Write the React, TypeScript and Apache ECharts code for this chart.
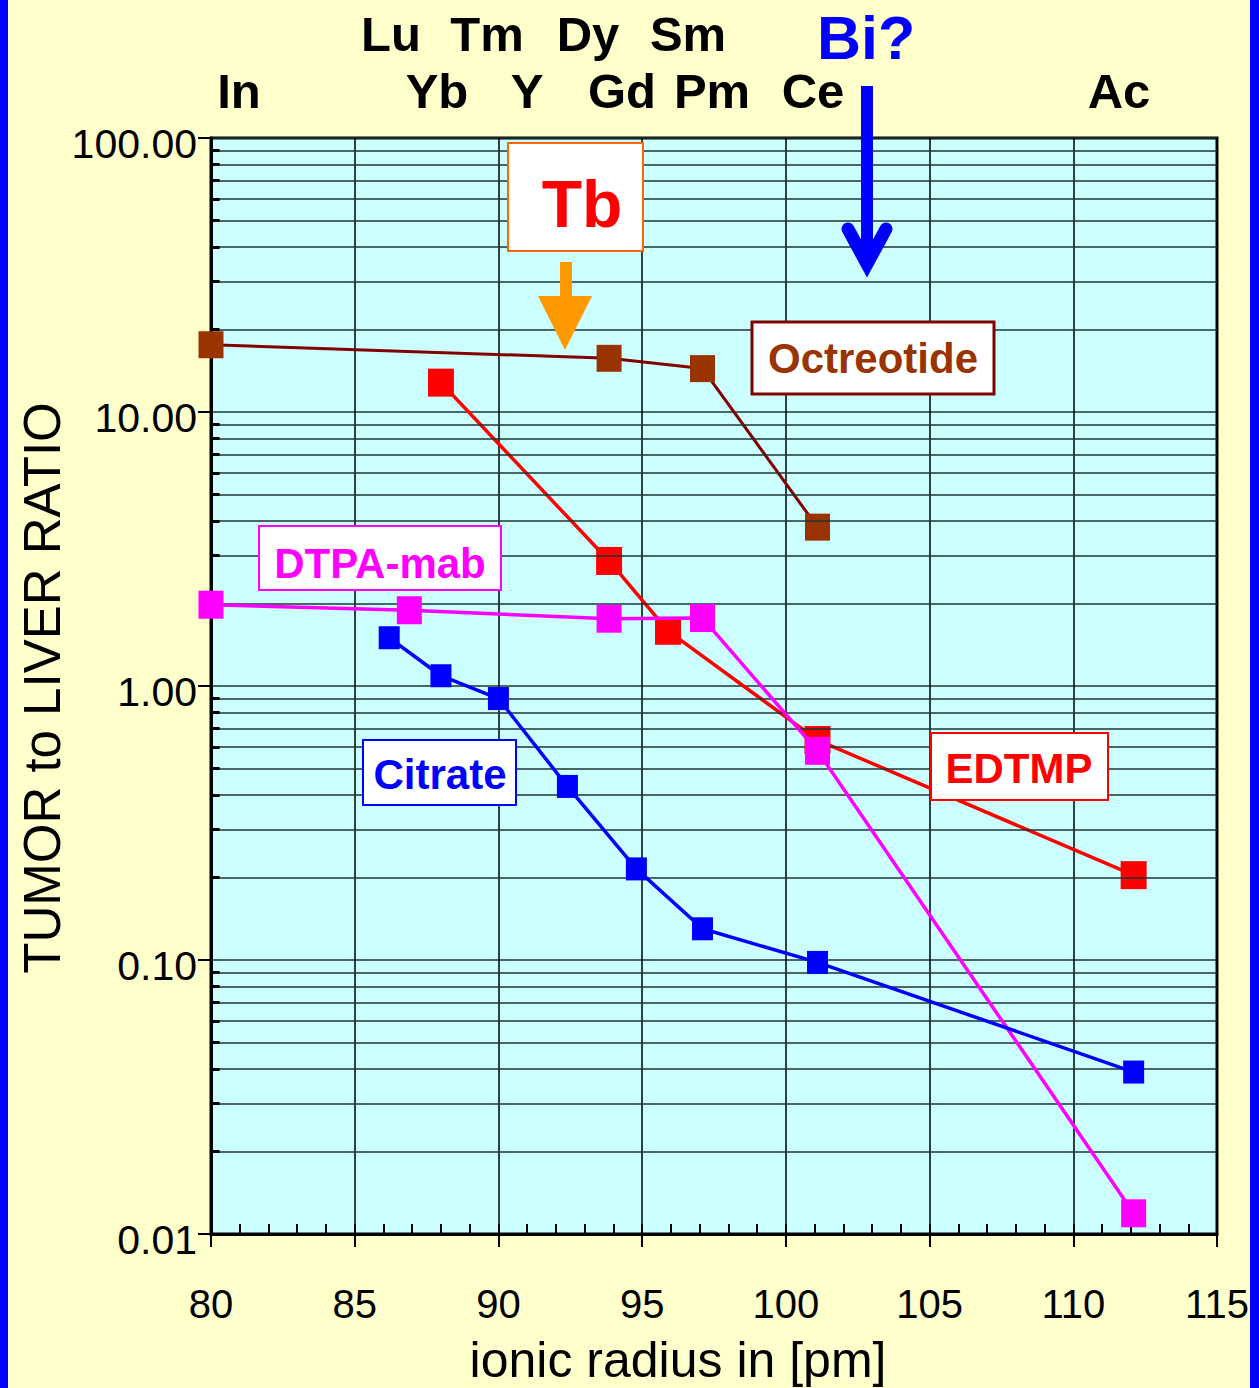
import React, { useEffect, useRef } from "react";
import * as echarts from "echarts";

// ---- data ----
const octreotideX = [80, 93.85, 97.1, 101.1];
const octreotideY = [17.6, 15.7, 14.4, 3.8];

const edtmpX = [88, 93.85, 95.9, 101.1, 112.1];
const edtmpY = [12.8, 2.86, 1.59, 0.635, 0.204];

const dtpaX = [80, 86.9, 93.85, 97.1, 101.1, 112.1];
const dtpaY = [1.98, 1.89, 1.76, 1.77, 0.58, 0.0119];

const citrateX = [86.2, 88, 90, 92.4, 94.8, 97.1, 101.1, 112.1];
const citrateY = [1.5, 1.09, 0.9, 0.43, 0.215, 0.13, 0.098, 0.039];

const yDecades = [0.01, 0.1, 1, 10];
const yMinorMultipliers = [2, 3, 4, 5, 6, 7, 8, 9];

const elementRow1 = ["Lu", "Tm", "Dy", "Sm"];
const elementRow2 = ["In", "Yb", "Y", "Gd", "Pm", "Ce", "Ac"];

// ---- layout (pixels) for annotations ----
const row1Pos = [391, 487, 588, 688];
const row2Pos = [239, 437, 527, 622, 712, 813, 1119];

const FONT = '"Liberation Sans", Arial, sans-serif';

const zip = (xs: number[], ys: number[]) => xs.map((x, i) => [x, ys[i]]);

function txt(text: string, x: number, y: number, size: number, color: string, bold = true, extra: any = {}) {
  return {
    type: "text",
    z: 100,
    x,
    y,
    ...extra,
    style: {
      text,
      fill: color,
      fontSize: size,
      fontWeight: bold ? "bold" : "normal",
      fontFamily: FONT,
      align: "center",
      verticalAlign: "middle",
      textAlign: "center",
      textVerticalAlign: "middle",
    },
  };
}

function box(x: number, y: number, w: number, h: number, stroke: string, lw: number) {
  return {
    type: "rect",
    z: 99,
    shape: { x, y, width: w, height: h },
    style: { fill: "#FFFFFF", stroke, lineWidth: lw },
  };
}

export default function App() {
  const ref = useRef<HTMLDivElement>(null);

  useEffect(() => {
    document.body.style.margin = "0";
    if (!ref.current) return;
    const chart = echarts.init(ref.current, null, { renderer: "svg" });

    const minorValues: number[] = [];
    yDecades.forEach((d) => yMinorMultipliers.forEach((m) => minorValues.push(+(d * m).toPrecision(3))));

    const graphic: any[] = [
      // blue side borders
      { type: "rect", z: 100, shape: { x: 0, y: 0, width: 8, height: 1388 }, style: { fill: "#0000FF" } },
      { type: "rect", z: 100, shape: { x: 1250, y: 0, width: 9, height: 1388 }, style: { fill: "#0000FF" } },
      // element labels
      ...elementRow1.map((t, i) => txt(t, row1Pos[i], 34, 49, "#000000")),
      ...elementRow2.map((t, i) => txt(t, row2Pos[i], 91, 49, "#000000")),
      txt("Bi?", 866, 38, 61, "#0000FF"),
      // Bi arrow
      {
        type: "line",
        z: 100,
        shape: { x1: 867, y1: 86, x2: 867, y2: 264 },
        style: { stroke: "#0000FF", lineWidth: 12 },
      },
      {
        type: "polyline",
        z: 100,
        shape: { points: [[848, 229], [867, 264], [886, 229]] },
        style: { stroke: "#0000FF", lineWidth: 13, lineCap: "round", lineJoin: "miter", fill: "none" },
      },
      // Tb box and arrow
      box(508, 143, 135, 108, "#FF6600", 2),
      txt("Tb", 582, 204, 66, "#FF0000"),
      { type: "rect", z: 100, shape: { x: 560, y: 262, width: 12, height: 36 }, style: { fill: "#FF9900" } },
      {
        type: "polygon",
        z: 100,
        shape: { points: [[538, 296], [592, 296], [565, 350]] },
        style: { fill: "#FF9900" },
      },
      // series labels
      box(752, 322, 242, 72, "#800000", 3),
      txt("Octreotide", 873, 358, 42, "#993300"),
      box(259, 526, 242, 64, "#FF00FF", 2),
      txt("DTPA-mab", 380, 563, 42, "#FF00FF"),
      box(363, 740, 153, 65, "#0000FF", 2),
      txt("Citrate", 440, 774, 42, "#0000FF"),
      box(931, 733, 177, 67, "#FF0000", 2),
      txt("EDTMP", 1019, 768, 42, "#FF0000"),
      // axis titles
      txt("TUMOR to LIVER RATIO", 42, 688, 51, "#000000", false, { rotation: Math.PI / 2 }),
      txt("ionic radius in [pm]", 678, 1360, 50, "#000000", false),
    ];

    const option: any = {
      animation: false,
      backgroundColor: "#FFFFCC",
      grid: {
        left: 211,
        top: 138,
        right: 42,
        bottom: 154,
        show: true,
        backgroundColor: "#CCFFFF",
        borderColor: "#000000",
        borderWidth: 3,
      },
      xAxis: [
        {
          type: "value",
          min: 80,
          max: 115,
          interval: 5,
          position: "bottom",
          axisLine: { show: true, lineStyle: { color: "#000000", width: 3 } },
          axisTick: { show: true, inside: false, length: 13, lineStyle: { color: "#000000", width: 2 } },
          axisLabel: { color: "#000000", fontSize: 40, fontFamily: FONT, margin: 50 },
          splitLine: { show: true, lineStyle: { color: "#000000", width: 1.5 } },
        },
        {
          type: "value",
          min: 80,
          max: 115,
          interval: 1,
          position: "bottom",
          axisLine: { show: false },
          axisTick: { show: true, inside: true, length: 10, lineStyle: { color: "#000000", width: 2 } },
          axisLabel: { show: false },
          splitLine: { show: false },
        },
      ],
      yAxis: {
        type: "log",
        logBase: 10,
        min: 0.01,
        max: 100,
        axisLine: { show: true, lineStyle: { color: "#000000", width: 3 } },
        axisTick: { show: true, inside: false, length: 13, lineStyle: { color: "#000000", width: 2 } },
        axisLabel: {
          color: "#000000",
          fontSize: 41,
          fontFamily: FONT,
          margin: 14,
          verticalAlign: "top",
          lineHeight: 12,
          formatter: (v: number) => v.toFixed(2),
        },
        splitLine: { show: true, lineStyle: { color: "#1f3535", width: 1.5 } },
      },
      graphic,
      series: [
        {
          type: "line",
          name: "minor-grid",
          data: [],
          silent: true,
          z: 1,
          markLine: {
            silent: true,
            symbol: "none",
            label: { show: false },
            animation: false,
            data: [
              ...minorValues.map((v) => ({ yAxis: v, lineStyle: { color: "#1f3535", width: 1.5, type: "solid" } })),
              ...minorValues.map((v) => [
                { coord: [80, v], lineStyle: { color: "#000000", width: 3, type: "solid" } },
                { coord: [80.3, v] },
              ]),
            ],
          },
        },
        {
          type: "line",
          name: "Octreotide",
          data: zip(octreotideX, octreotideY),
          symbol: "rect",
          symbolSize: [25, 27],
          showAllSymbol: true,
          itemStyle: { color: "#993300" },
          lineStyle: { color: "#800000", width: 3 },
          z: 3,
        },
        {
          type: "line",
          name: "EDTMP",
          data: zip(edtmpX, edtmpY),
          symbol: "rect",
          symbolSize: [26, 28],
          itemStyle: { color: "#FF0000" },
          lineStyle: { color: "#FF0000", width: 3.5 },
          z: 4,
        },
        {
          type: "line",
          name: "DTPA-mab",
          data: zip(dtpaX, dtpaY),
          symbol: "rect",
          symbolSize: [25, 28],
          itemStyle: { color: "#FF00FF" },
          lineStyle: { color: "#FF00FF", width: 3.5 },
          z: 5,
        },
        {
          type: "line",
          name: "Citrate",
          data: zip(citrateX, citrateY),
          symbol: "rect",
          symbolSize: [21, 23],
          itemStyle: { color: "#0000FF" },
          lineStyle: { color: "#0000FF", width: 3.5 },
          z: 6,
        },
      ],
    };

    chart.setOption(option);
    return () => chart.dispose();
  }, []);

  return <div ref={ref} style={{ width: 1259, height: 1388 }} />;
}
